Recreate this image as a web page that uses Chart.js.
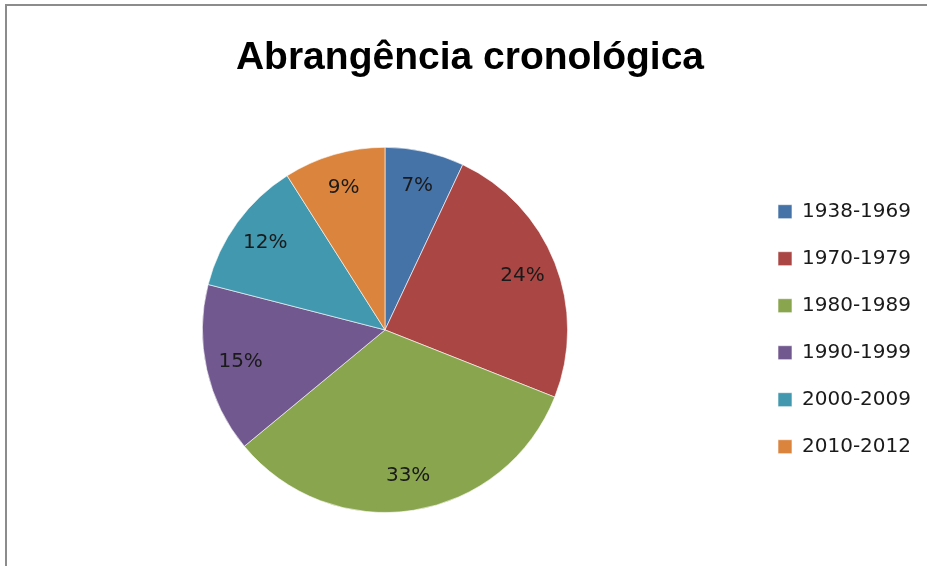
<!DOCTYPE html>
<html lang="pt">

<head>
  <meta charset="UTF-8">
  <title>Abrangência cronológica</title>
  <script src="https://cdn.jsdelivr.net/npm/chart.js"></script>
  <style>
    html, body { margin: 0; background: #fff; overflow: hidden; width: 927px; height: 566px; }
    .frame {
      position: absolute;
      left: 5px;
      top: 4px;
      width: 960px;
      height: 600px;
      border-top: 2px solid #8c8c8c;
      border-left: 2px solid #8c8c8c;
      box-sizing: border-box;
    }
    #pie { position: absolute; left: 0; top: 0; }
  </style>
</head>

<body>
  <div class="frame"></div>
  <canvas id="pie" width="927" height="566"></canvas>

  <script>
    const periods = ['1938-1969', '1970-1979', '1980-1989', '1990-1999', '2000-2009', '2010-2012'];
    const shares = [7, 24, 33, 15, 12, 9];
    const sliceColors = ['#4572A7', '#AA4643', '#89A54E', '#71588F', '#4198AF', '#DB843D'];

    const labelFont = '20px "DejaVu Sans"';

    // percentage labels inside the slices
    const sliceLabels = {
      id: 'sliceLabels',
      afterDatasetsDraw(chart) {
        const ctx = chart.ctx;
        const meta = chart.getDatasetMeta(0);
        ctx.save();
        ctx.font = labelFont;
        ctx.fillStyle = '#1a1a1a';
        ctx.textAlign = 'center';
        ctx.textBaseline = 'middle';
        meta.data.forEach((arc, i) => {
          const p = arc.getProps(['x', 'y', 'startAngle', 'endAngle', 'outerRadius'], true);
          const mid = (p.startAngle + p.endAngle) / 2;
          const r = p.outerRadius * 0.81;
          ctx.fillText(shares[i] + '%', p.x + Math.cos(mid) * r, p.y + Math.sin(mid) * r);
        });
        ctx.restore();
      }
    };

    new Chart(document.getElementById('pie'), {
      type: 'pie',
      data: {
        labels: periods,
        datasets: [{
          data: shares,
          backgroundColor: sliceColors,
          borderColor: 'rgba(255,255,255,0.6)',
          borderWidth: 1
        }]
      },
      options: {
        responsive: false,
        animation: false,
        layout: { padding: { left: 19, right: 6, top: 0, bottom: 53 } },
        plugins: {
          title: {
            display: true,
            text: 'Abrangência cronológica',
            color: '#000',
            font: { family: '"Liberation Sans"', size: 39, weight: 'bold' },
            padding: { top: 35, bottom: 65 }
          },
          legend: {
            position: 'right',
            align: 'center',
            title: { display: true, text: '', padding: { top: 131, bottom: 0 } },
            labels: {
              boxWidth: 14,
              boxHeight: 14,
              padding: 27,
              color: '#1a1a1a',
              font: { family: '"DejaVu Sans"', size: 20 }
            }
          },
          tooltip: { enabled: false }
        }
      },
      plugins: [sliceLabels]
    });
  </script>
</body>

</html>
